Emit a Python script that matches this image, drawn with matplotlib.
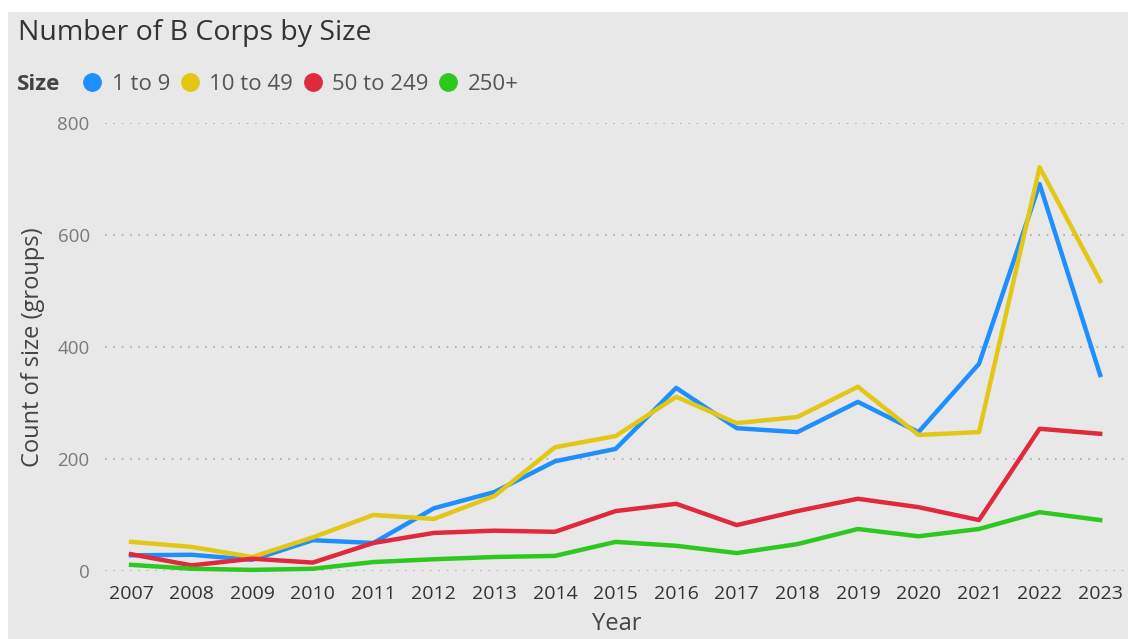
import matplotlib.pyplot as plt
from matplotlib.lines import Line2D
from matplotlib.patches import Rectangle

years = list(range(2007, 2024))
size_1_9 = [28, 29, 20, 55, 50, 112, 141, 196, 218, 327, 255, 248, 302, 248, 370, 691, 350]
size_10_49 = [52, 43, 25, 60, 100, 93, 134, 221, 241, 311, 264, 275, 329, 243, 248, 721, 518]
size_50_249 = [30, 10, 22, 15, 50, 68, 72, 70, 107, 120, 82, 107, 129, 114, 91, 254, 245]
size_250 = [11, 4, 2, 4, 16, 21, 25, 27, 52, 45, 32, 48, 75, 62, 75, 105, 91]

labels = ["1 to 9", "10 to 49", "50 to 249", "250+"]
colors = ["#1f8fff", "#e3c716", "#e0293d", "#2dc81f"]
series = [size_1_9, size_10_49, size_50_249, size_250]

bg = "#e8e8e8"
plt.rcParams['font.family'] = ['Open Sans', 'DejaVu Sans']

W, H = 1128, 639
fig = plt.figure(figsize=(W / 100, H / 100), dpi=100)
fig.patch.set_facecolor("white")
fig.patches.append(Rectangle((0.007, 0), 0.993, 0.982, transform=fig.transFigure,
                             facecolor=bg, edgecolor="none", zorder=-10))

ax = fig.add_axes([105 / W, 1 - 571 / H, (1125 - 105) / W, (571 - 123) / H])
ax.set_facecolor(bg)

for vals, lab, col in zip(series, labels, colors):
    ax.plot(years, vals, color=col, lw=3.2, label=lab, clip_on=False)

ax.set_xlim(2006.57, 2023.41)
ax.set_ylim(0, 800)
ax.set_yticks([0, 200, 400, 600, 800])
ax.set_xticks(years)
ax.grid(axis='y', color="#a8a8a8", linestyle=(0, (1, 4)), lw=1.2)
ax.set_axisbelow(True)
for s in ax.spines.values():
    s.set_visible(False)
ax.tick_params(length=0)
ax.tick_params(axis='y', pad=11, labelsize=13.5, labelcolor="#7a7a7a")
ax.tick_params(axis='x', pad=10, labelsize=14, labelcolor="#333333")

fig.text(617 / W, 1 - 624 / H, "Year", fontsize=17, color="#444444",
         ha='center', va='center')
fig.text(33 / W, 1 - 347 / H, "Count of size (groups)", fontsize=17, color="#444444",
         ha='center', va='center', rotation=90)

fig.text(18 / W, 1 - 33 / H, "Number of B Corps by Size", fontsize=20.5,
         color="#333333", va='center', ha='left')
fig.text(17 / W, 1 - 84 / H, "Size", fontsize=16, fontweight='bold',
         color="#444444", va='center', ha='left')

handles = [Line2D([], [], marker='o', ls='none', markersize=12.5, color=c) for c in colors]
fig.legend(handles, labels, loc='center left', bbox_to_anchor=(81 / W, 1 - 84 / H),
           ncol=4, frameon=False, fontsize=16, handletextpad=0.38, columnspacing=0.38,
           handlelength=1.0, borderaxespad=0, borderpad=0, labelcolor="#555555")

fig.savefig("out.png", dpi=100, facecolor=fig.get_facecolor())
